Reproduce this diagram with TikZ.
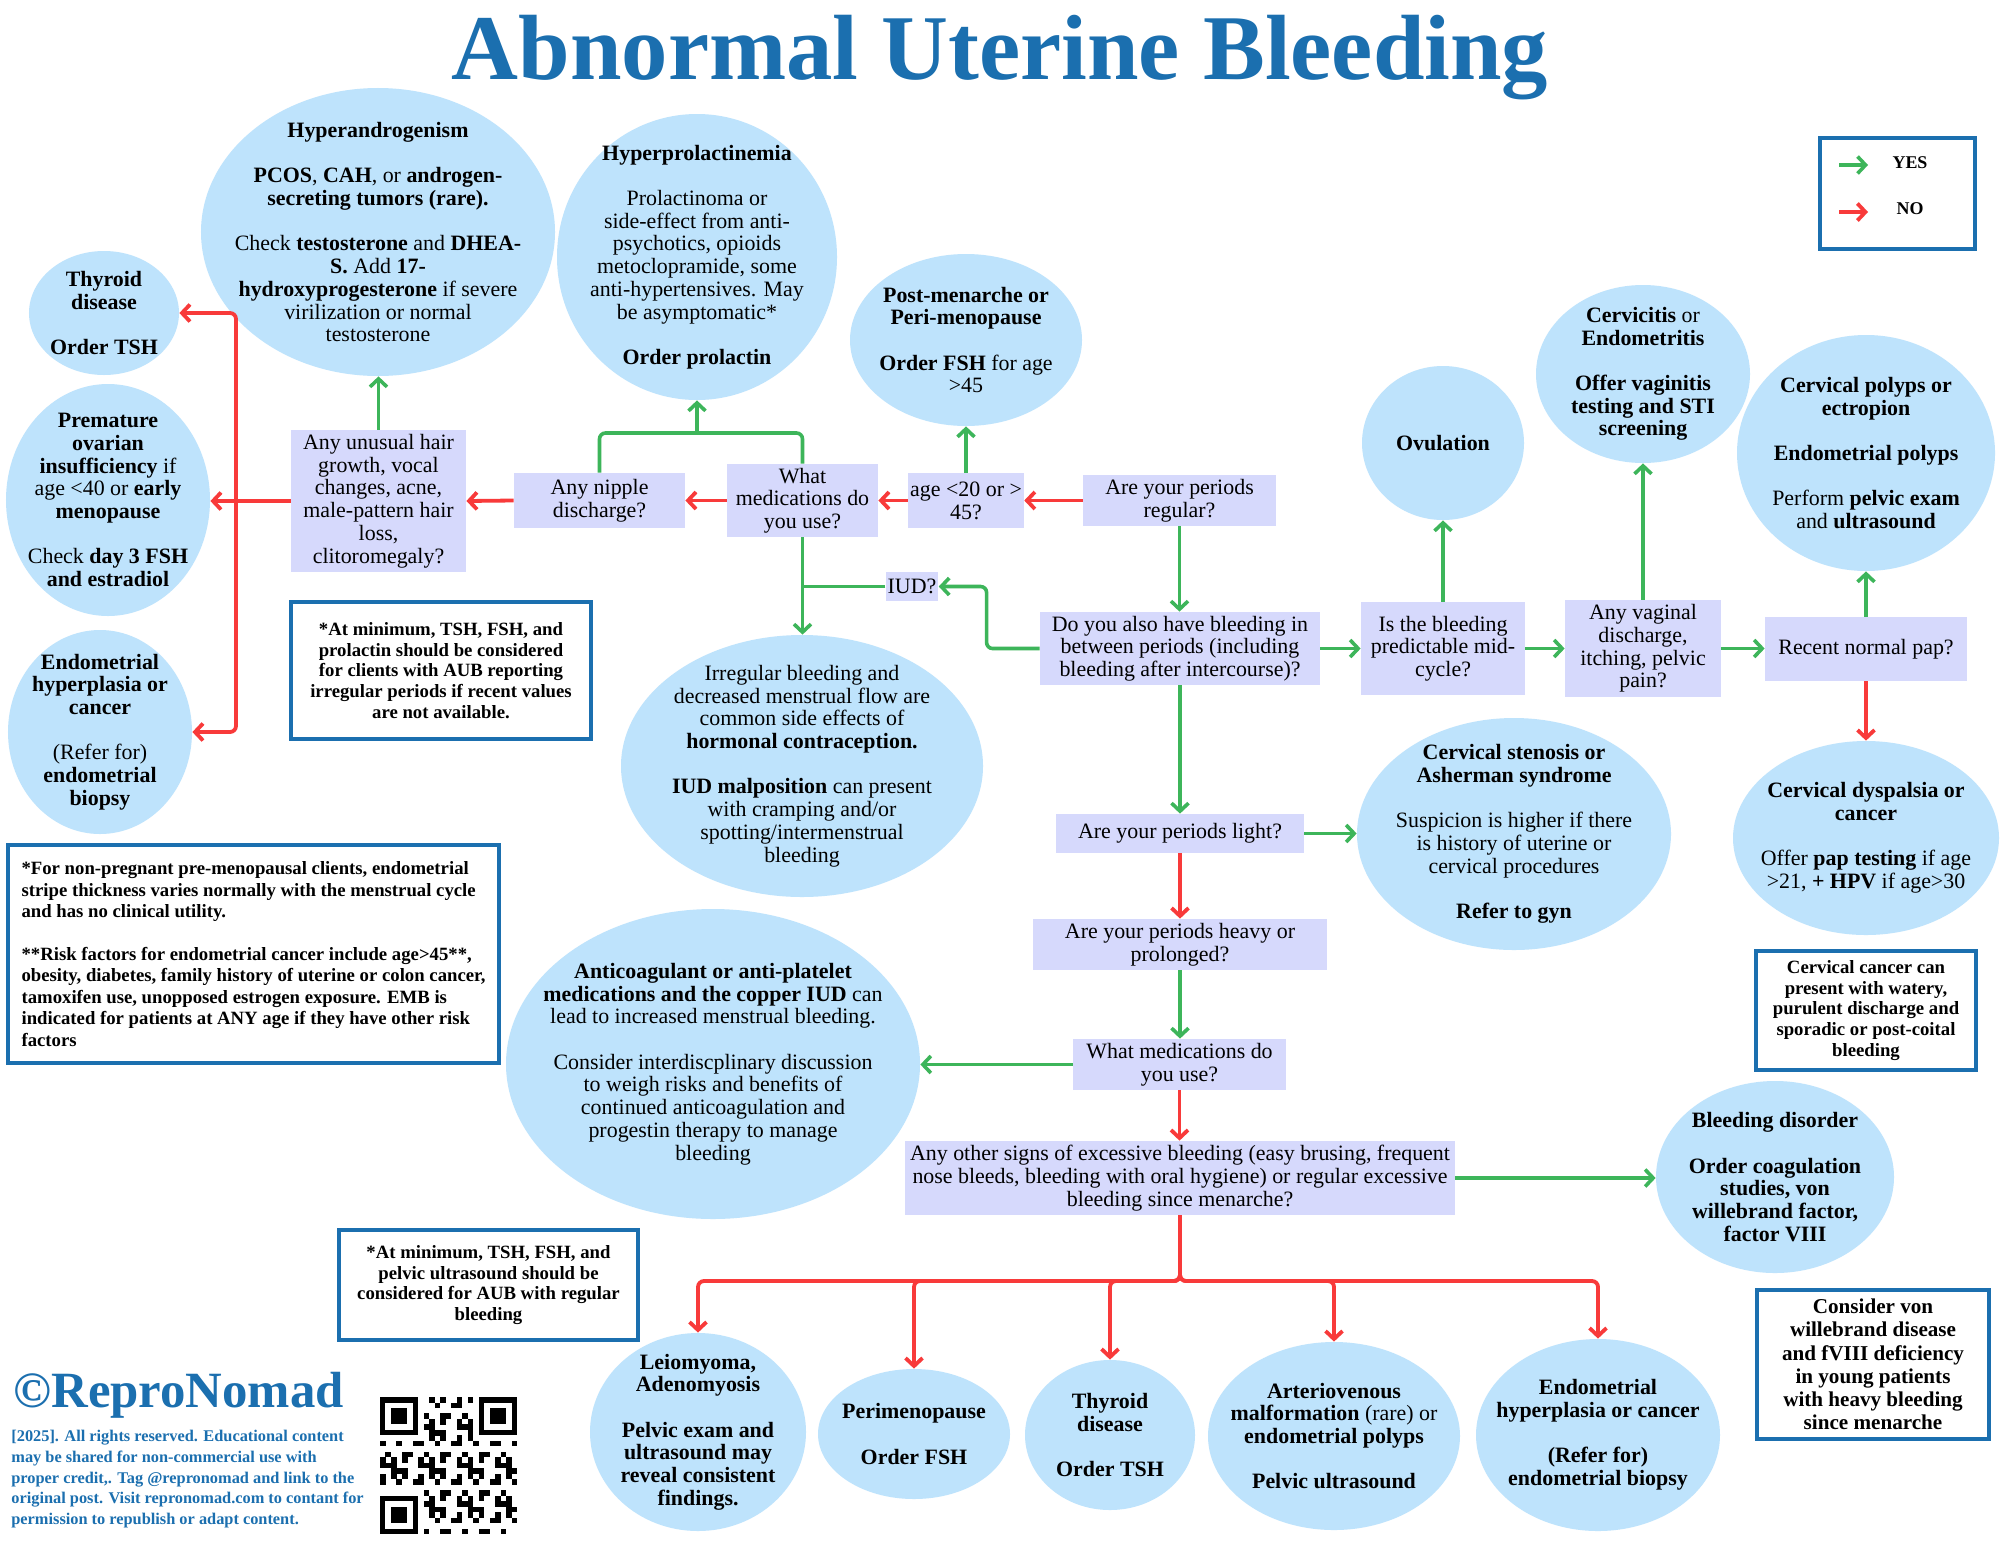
\documentclass[tikz,border=0pt]{standalone}
\usepackage{fontspec}
\setmainfont{Liberation Serif}
\usetikzlibrary{arrows.meta,shapes.geometric}
\definecolor{bubfill}{HTML}{BEE3FC}
\definecolor{boxfill}{HTML}{D6D9FC}
\definecolor{ygreen}{HTML}{3DB55A}
\definecolor{nred}{HTML}{F83A3A}
\definecolor{nblue}{HTML}{1B6FAF}
\newcommand{\blankln}{\\[\baselineskip]}
\newcommand{\Bub}[6]{%
  \node[bub, minimum width=#4bp, minimum height=#5bp] (#1) at (#2,#3) {};
  \node[btxt] (#1t) at (#1.center) {#6};}
\newcommand{\Qb}[6]{%
  \node[qbox, minimum width=#4bp, minimum height=#5bp] (#1) at (#2,#3) {#6};}
\begin{document}
\begin{tikzpicture}[x=0.5bp,y=-0.5bp,
  bub/.style={ellipse, fill=bubfill, inner sep=0pt},
  btxt/.style={align=center, inner sep=0pt, font=\fontsize{11}{11.4}\selectfont},
  qbox/.style={rectangle, fill=boxfill, inner sep=1bp, align=center, font=\fontsize{11}{11.4}\selectfont},
  notebox/.style={rectangle, draw=nblue, line width=1.6bp, fill=white, inner sep=2bp, align=center, font=\fontsize{9.4}{10.4}\selectfont\bfseries},
  yes/.style={draw=ygreen, line width=1.8bp, rounded corners=3bp, -{Straight Barb[length=4bp,width=8.5bp]}},
  yesl/.style={draw=ygreen, line width=1.8bp, rounded corners=3bp},
  no/.style={draw=nred, line width=1.9bp, rounded corners=3bp, -{Straight Barb[length=4bp,width=8.5bp]}}]
\fill[white] (0,0) rectangle (2000,1545);
\useasboundingbox (0,0) rectangle (2000,1545);

% title
\node[anchor=base, inner sep=0pt, text=nblue, font=\fontsize{46.5}{50}\selectfont\bfseries] (ttl) at (1000,79) {Abnormal Uterine Bleeding};

% legend
\node[notebox, minimum width=77.5bp, minimum height=55.5bp] (leg) at (1897.5,193.5) {};
\coordinate (ya) at (1839,165); \coordinate (yb) at (1868,165);
\coordinate (na) at (1839,212); \coordinate (nb) at (1868,212);
\draw[yes] (ya) -- (yb);
\draw[no] (na) -- (nb);
\node[inner sep=0pt, font=\fontsize{9}{10}\selectfont\bfseries] (yest) at (1910,163) {YES};
\node[inner sep=0pt, font=\fontsize{9}{10}\selectfont\bfseries] (notx) at (1910,209) {NO};

% bubbles
\Bub{thy}{104}{313}{75}{62}{\textbf{Thyroid}\\\textbf{disease}\blankln\textbf{Order TSH}}
\Bub{poi}{108}{500}{102}{116}{\textbf{Premature}\\\textbf{ovarian}\\\textbf{insufficiency} if\\age <40 or \textbf{early}\\\textbf{menopause}\blankln Check \textbf{day 3 FSH}\\\textbf{and estradiol}}
\Bub{endo}{100}{732}{92}{102}{\textbf{Endometrial}\\\textbf{hyperplasia or}\\\textbf{cancer}\blankln (Refer for)\\\textbf{endometrial}\\\textbf{biopsy}}
\Bub{andr}{378}{232}{177}{144}{\textbf{Hyperandrogenism}\blankln\textbf{PCOS}, \textbf{CAH}, or \textbf{androgen-}\\\textbf{secreting tumors (rare).}\blankln Check \textbf{testosterone} and \textbf{DHEA-}\\\textbf{S.} Add \textbf{17-}\\\textbf{hydroxyprogesterone} if severe\\virilization or normal\\testosterone}
\Bub{prl}{697}{257}{140}{143}{\textbf{Hyperprolactinemia}\blankln Prolactinoma or\\side-effect from anti-\\psychotics, opioids\\metoclopramide, some\\anti-hypertensives. May\\be asymptomatic*\blankln\textbf{Order prolactin}}
\Bub{pm}{966}{340}{116}{86}{\textbf{Post-menarche or}\\\textbf{Peri-menopause}\blankln\textbf{Order FSH} for age\\>45}
\Bub{irr}{802}{766}{181}{131}{Irregular bleeding and\\decreased menstrual flow are\\common side effects of\\\textbf{hormonal contraception.}\blankln\textbf{IUD malposition} can present\\with cramping and/or\\spotting/intermenstrual\\bleeding}
\Bub{ovu}{1443}{443}{81}{77}{\textbf{Ovulation}}
\Bub{cerv}{1643}{374}{107}{89}{\textbf{Cervicitis} or\\\textbf{Endometritis}\blankln\textbf{Offer vaginitis}\\\textbf{testing and STI}\\\textbf{screening}}
\Bub{cpol}{1866}{453}{129}{118}{\textbf{Cervical polyps or}\\\textbf{ectropion}\blankln\textbf{Endometrial polyps}\blankln Perform \textbf{pelvic exam}\\and \textbf{ultrasound}}
\Bub{sten}{1514}{834}{157}{116}{\textbf{Cervical stenosis or}\\\textbf{Asherman syndrome}\blankln Suspicion is higher if there\\is history of uterine or\\cervical procedures\blankln\textbf{Refer to gyn}}
\Bub{cdys}{1866}{838}{133}{97}{\textbf{Cervical dyspalsia or}\\\textbf{cancer}\blankln Offer \textbf{pap testing} if age\\>21, \textbf{+ HPV} if age>30}
\Bub{anti}{713}{1064}{207}{155}{\textbf{Anticoagulant or anti-platelet}\\\textbf{medications and the copper IUD} can\\lead to increased menstrual bleeding.\blankln Consider interdiscplinary discussion\\to weigh risks and benefits of\\continued anticoagulation and\\progestin therapy to manage\\bleeding}
\Bub{bd}{1775}{1177}{119}{96}{\textbf{Bleeding disorder}\blankln\textbf{Order coagulation}\\\textbf{studies, von}\\\textbf{willebrand factor,}\\\textbf{factor VIII}}
\Bub{lei}{698}{1432}{108}{99}{\textbf{Leiomyoma,}\\\textbf{Adenomyosis}\blankln\textbf{Pelvic exam and}\\\textbf{ultrasound may}\\\textbf{reveal consistent}\\\textbf{findings.}}
\Bub{peri}{914}{1434}{96}{65}{\textbf{Perimenopause}\blankln\textbf{Order FSH}}
\Bub{thyb}{1110}{1435}{85}{75}{\textbf{Thyroid}\\\textbf{disease}\blankln\textbf{Order TSH}}
\Bub{avm}{1334}{1436}{126}{94}{\textbf{Arteriovenous}\\\textbf{malformation} (rare) or\\\textbf{endometrial polyps}\blankln\textbf{Pelvic ultrasound}}
\Bub{endob}{1598}{1435}{122}{96}{\textbf{Endometrial}\\\textbf{hyperplasia or cancer}\blankln\textbf{(Refer for)}\\\textbf{endometrial biopsy}}

% question boxes
\Qb{hair}{378.5}{501}{87.5}{71}{Any unusual hair\\growth, vocal\\changes, acne,\\male-pattern hair\\loss,\\clitoromegaly?}
\Qb{nip}{599.5}{500.5}{85.5}{27.5}{Any nipple\\discharge?}
\Qb{medA}{802.5}{500.5}{75.5}{36.5}{What\\medications do\\you use?}
\Qb{age}{966}{500.5}{57}{27.5}{age <20 or >\\45?}
\Qb{reg}{1179.5}{500.5}{96.5}{25.5}{Are your periods\\regular?}
\Qb{iud}{912}{586.5}{25}{14.5}{IUD?}
\Qb{dy}{1180}{648.5}{140}{36.5}{Do you also have bleeding in\\between periods (including\\bleeding after intercourse)?}
\Qb{mid}{1443}{648.5}{82}{46.5}{Is the bleeding\\predictable mid-\\cycle?}
\Qb{vag}{1643}{648.5}{78}{48.5}{Any vaginal\\discharge,\\itching, pelvic\\pain?}
\Qb{pap}{1866}{649}{101}{32}{Recent normal pap?}
\Qb{light}{1180}{833.5}{124}{19.5}{Are your periods light?}
\Qb{heavy}{1180}{944.5}{147}{25.5}{Are your periods heavy or\\prolonged?}
\Qb{medB}{1179.5}{1064.5}{106.5}{25.5}{What medications do\\you use?}
\Qb{exc}{1180}{1178}{275}{37}{Any other signs of excessive bleeding (easy brusing, frequent\\nose bleeds, bleeding with oral hygiene) or regular excessive\\bleeding since menarche?}

% note boxes
\node[notebox, minimum width=150bp, minimum height=68.5bp] (noteA) at (441,670.5) {*At minimum, TSH, FSH, and\\prolactin should be considered\\for clients with AUB reporting\\irregular periods if recent values\\are not available.};
\node[notebox, align=left, minimum width=245.5bp, minimum height=109bp, font=\fontsize{9.4}{10.75}\selectfont\bfseries] (noteB) at (253.5,954) {*For non-pregnant pre-menopausal clients, endometrial\\stripe thickness varies normally with the menstrual cycle\\and has no clinical utility.\blankln **Risk factors for endometrial cancer include age>45**,\\obesity, diabetes, family history of uterine or colon cancer,\\tamoxifen use, unopposed estrogen exposure. EMB is\\indicated for patients at ANY age if they have other risk\\factors};
\node[notebox, minimum width=149.5bp, minimum height=55bp] (noteC) at (488.5,1285) {*At minimum, TSH, FSH, and\\pelvic ultrasound should be\\considered for AUB with regular\\bleeding};
\node[notebox, minimum width=110bp, minimum height=59.5bp] (noteD) at (1866,1010.5) {Cervical cancer can\\present with watery,\\purulent discharge and\\sporadic or post-coital\\bleeding};
\node[notebox, minimum width=116bp, minimum height=74.5bp, font=\fontsize{10.6}{11.65}\selectfont\bfseries] (noteE) at (1873,1364.5) {Consider von\\willebrand disease\\and fVIII deficiency\\in young patients\\with heavy bleeding\\since menarche};

% connectors: NO (red)
\draw[no] (reg.west) -- (age.east);
\draw[no] (age.west) -- (medA.east);
\draw[no] (medA.west) -- (nip.east);
\draw[no] (nip.west) -- (hair.east);
\draw[no] (hair.west) -- (hair.west -| poi.east);
\coordinate (jn) at (236,501);
\draw[no] (jn) |- (thy.east);
\draw[no] (jn) |- (endo.east);
\draw[no] (pap.south) -- (pap.south |- cdys.north);
\draw[no] (light.south) -- (light.south |- heavy.north);
\draw[no] (medB.south) -- (medB.south |- exc.north);
\coordinate (tj) at (1180,1281);
\foreach \t in {lei,peri,thyb,avm,endob}{\draw[no] (exc.south) -- (tj) -| (\t.north);}

% connectors: YES (green)
\draw[yes] (hair.north) -- (hair.north |- andr.south);
\coordinate (pj) at (697,433);
\draw[yesl] (nip.north) |- (pj) -| (medA.north);
\draw[yes] (pj) -- (pj |- prl.south);
\draw[yes] (age.north) -- (age.north |- pm.south);
\draw[yes] (medA.south) -- (medA.south |- irr.north);
\draw[yesl] (iud.west) -- (iud.west -| medA.south);
\draw[yes] (dy.west) -- ++(-53,0) |- (iud.east);
\draw[yes] (reg.south) -- (reg.south |- dy.north);
\draw[yes] (dy.east) -- (dy.east -| mid.west);
\draw[yes] (mid.east) -- (mid.east -| vag.west);
\draw[yes] (vag.east) -- (vag.east -| pap.west);
\draw[yes] (mid.north) -- (mid.north |- ovu.south);
\draw[yes] (vag.north) -- (vag.north |- cerv.south);
\draw[yes] (pap.north) -- (pap.north |- cpol.south);
\draw[yes] (dy.south) -- (dy.south |- light.north);
\draw[yes] (light.east) -- (light.east -| sten.west);
\draw[yes] (heavy.south) -- (heavy.south |- medB.north);
\draw[yes] (medB.west) -- (medB.west -| anti.east);
\draw[yes] (exc.east) -- (exc.east -| bd.west);

% branding
\node[anchor=base west, inner sep=0pt, text=nblue, font=\fontsize{25.5}{28}\selectfont\bfseries] (rn) at (13,1407) {©ReproNomad};
\node[anchor=north west, inner sep=0pt, align=left, text=nblue, font=\fontsize{8.2}{10.4}\selectfont\bfseries] (cpy) at (11,1430) {[2025]. All rights reserved. Educational content\\may be shared for non-commercial use with\\proper credit,. Tag @repronomad and link to the\\original post. Visit repronomad.com to contant for\\permission to republish or adapt content.};

% QR code (deterministic module pattern)
\foreach \i in {0,...,24}{\foreach \j in {0,...,24}{%
  \pgfmathtruncatemacro{\qin}{((\i<8)&&(\j<8))||((\i>16)&&(\j<8))||((\i<8)&&(\j>16))}%
  \ifnum\qin=0
    \pgfmathtruncatemacro{\qrv}{mod(\i*\i*7+\j*\j*3+\i*\j*5+\i*11+\j*13,7)<3}%
    \ifnum\qrv=1 \fill[black] (380+\i*5.48,1397+\j*5.48) rectangle ++(5.6,5.6);\fi
  \fi}}
\foreach \a/\b in {0/0,18/0,0/18}{
  \fill[black] (380+\a*5.48,1397+\b*5.48) rectangle ++(38.36,38.36);
  \fill[white] (380+\a*5.48+5.48,1397+\b*5.48+5.48) rectangle ++(27.4,27.4);
  \fill[black] (380+\a*5.48+10.96,1397+\b*5.48+10.96) rectangle ++(16.44,16.44);}
\end{tikzpicture}
\end{document}
